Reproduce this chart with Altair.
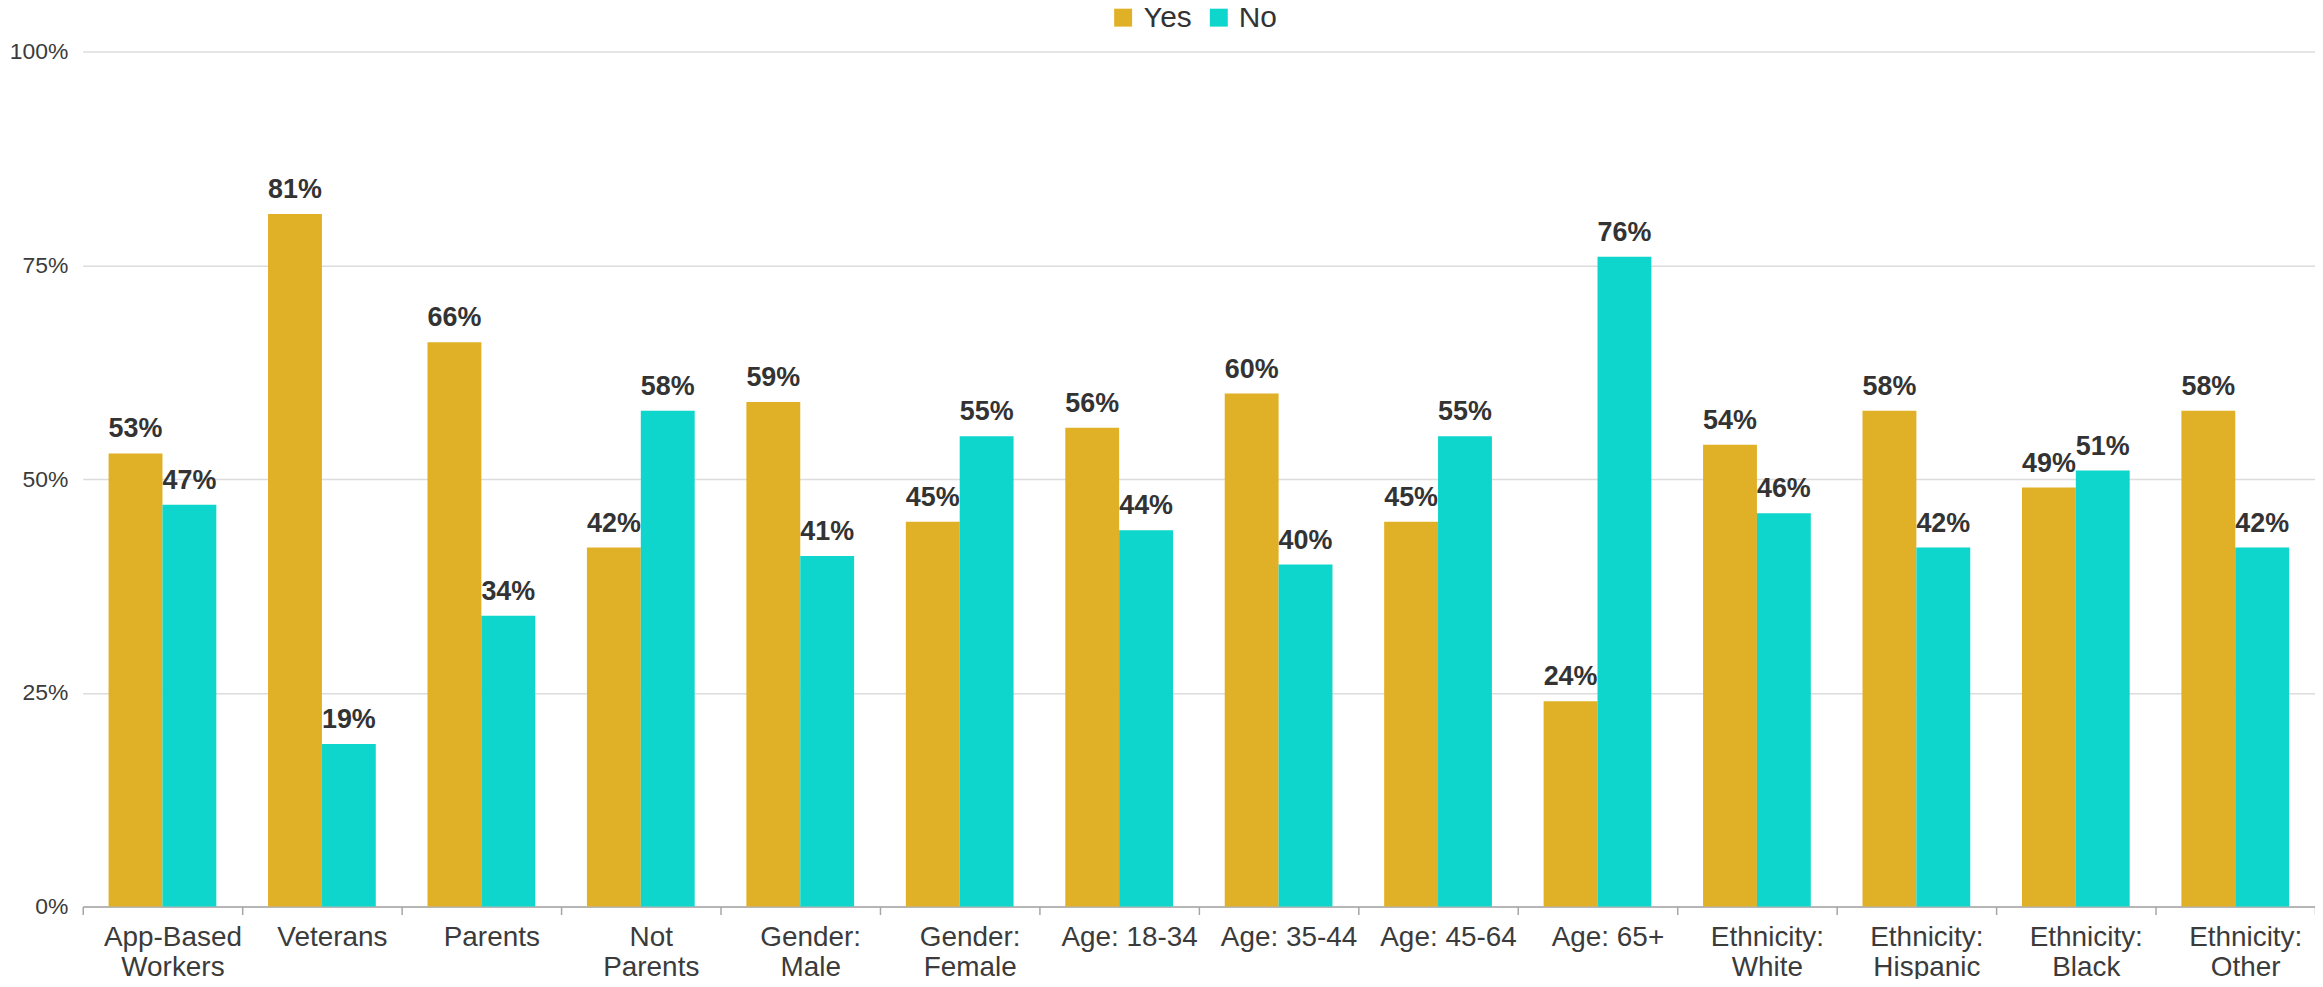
import altair as alt
import pandas as pd

categories = ["App-Based\nWorkers", "Veterans", "Parents", "Not\nParents", "Gender:\nMale",
              "Gender:\nFemale", "Age: 18-34", "Age: 35-44", "Age: 45-64", "Age: 65+",
              "Ethnicity:\nWhite", "Ethnicity:\nHispanic", "Ethnicity:\nBlack", "Ethnicity:\nOther"]
yes_values = [53, 81, 66, 42, 59, 45, 56, 60, 45, 24, 54, 58, 49, 58]
no_values = [47, 19, 34, 58, 41, 55, 44, 40, 55, 76, 46, 42, 51, 42]
series = ["Yes", "No"]
colors = ["#E0B026", "#0ED6CC"]
y_ticks = [0, 0.25, 0.5, 0.75, 1]

rows = []
for c, y, n in zip(categories, yes_values, no_values):
    rows.append({"category": c, "response": "Yes", "value": y / 100})
    rows.append({"category": c, "response": "No", "value": n / 100})
df = pd.DataFrame(rows)

FONT = "Liberation Sans"

base = alt.Chart(df).encode(
    x=alt.X("category:N", sort=categories,
            scale=alt.Scale(paddingInner=0, paddingOuter=0),
            axis=alt.Axis(title=None, labelAngle=0, tickBand="extent",
                          labelExpr="split(datum.label, '\\n')",
                          labelFont=FONT, labelFontSize=28, labelLineHeight=30,
                          labelColor="#3b3b3b", labelPadding=9, labelOffset=10,
                          domainColor="#a6a6a6", domainWidth=1.5,
                          tickColor="#a6a6a6", tickWidth=1.5, tickSize=8,
                          grid=False)),
    xOffset=alt.XOffset("response:N", sort=series,
                        scale=alt.Scale(paddingInner=0, paddingOuter=0.48)),
    y=alt.Y("value:Q", scale=alt.Scale(domain=[0, 1]),
            axis=alt.Axis(title=None, values=y_ticks, format=".0%",
                          labelFont=FONT, labelFontSize=23, labelColor="#3b3b3b",
                          labelPadding=15, domain=False, ticks=False,
                          grid=True, gridColor="#dcdcdc", gridWidth=1.5)),
)

bars = base.mark_bar().encode(
    color=alt.Color("response:N", sort=series,
                    scale=alt.Scale(domain=series, range=colors),
                    legend=alt.Legend(title=None, orient="none", legendX=1029, legendY=-49,
                                      direction="horizontal", symbolType="square",
                                      symbolSize=324, symbolStrokeWidth=0,
                                      labelFont=FONT, labelFontSize=30, labelColor="#333333",
                                      labelOffset=5, columnPadding=12, padding=0))
)

labels = base.mark_text(dy=-16, baseline="alphabetic", fontSize=27, fontWeight="bold",
                        color="#333333", font=FONT).encode(
    text=alt.Text("value:Q", format=".0%")
)

chart = alt.layer(bars, labels).properties(
    width=2240, height=858,
    autosize=alt.AutoSizeParams(type="none"),
    padding={"left": 75, "top": 42, "right": 0, "bottom": 71},
).configure_view(stroke=None)

chart.save("out.html", embed_options={"renderer": "svg", "actions": False})
